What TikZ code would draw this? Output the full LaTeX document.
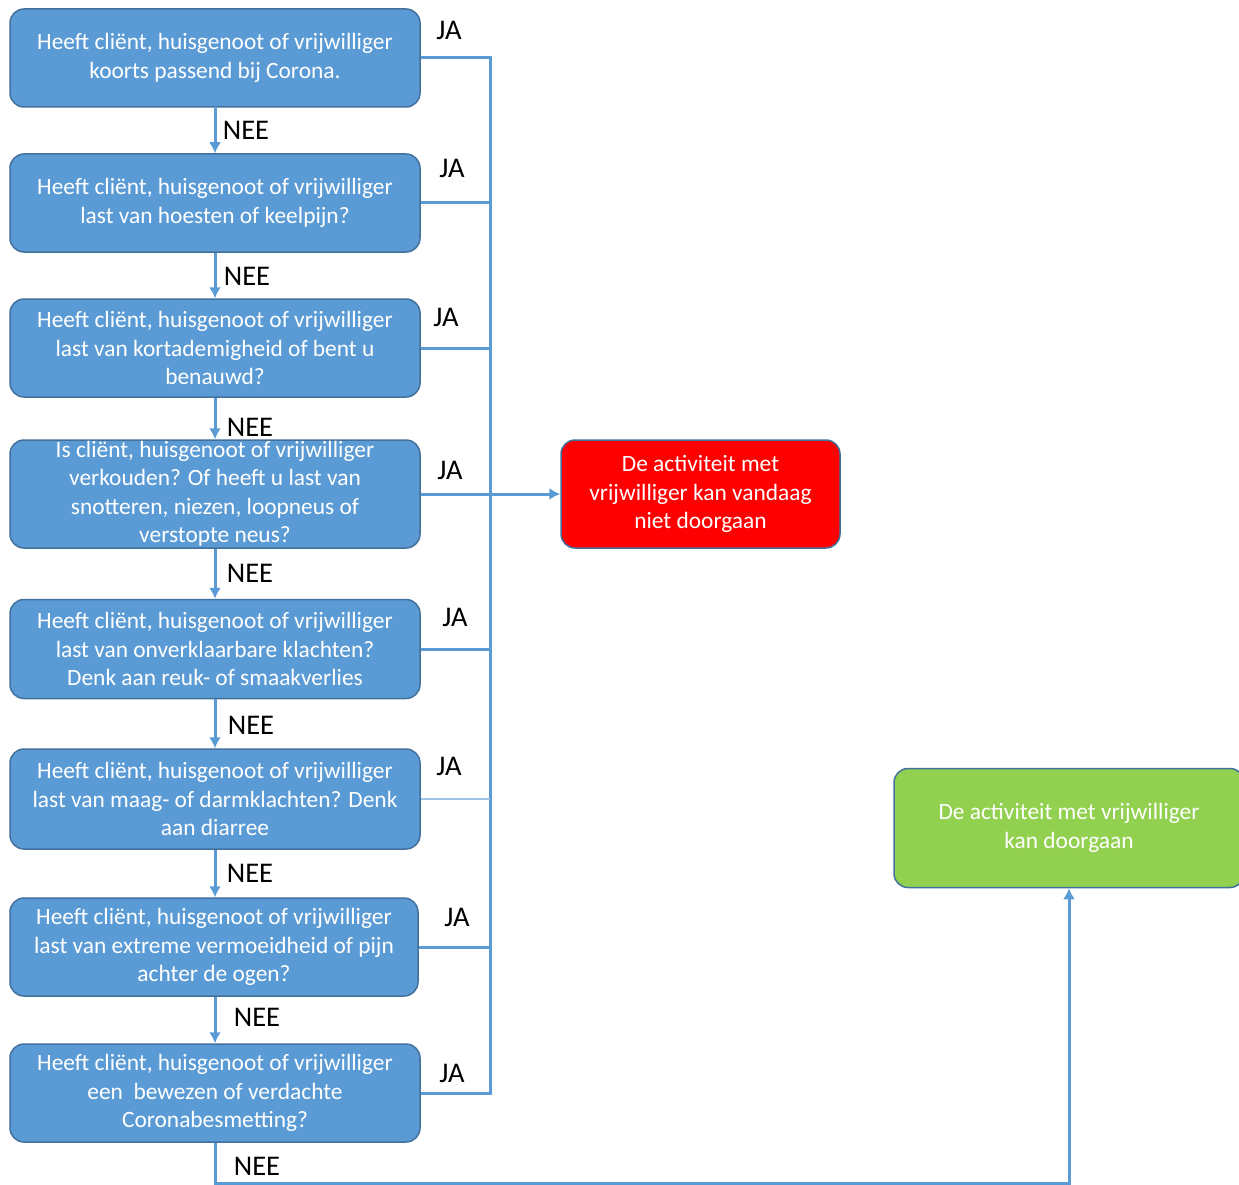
\documentclass[tikz,border=0pt]{standalone}
\usepackage{fontspec}
\setmainfont{Carlito}
\usepackage{xcolor}
\usetikzlibrary{arrows.meta}
\definecolor{vraagblauw}{HTML}{5B9BD5}
\definecolor{vraagrand}{HTML}{41719C}
\definecolor{stopcolor}{HTML}{FF0000}
\definecolor{gacolor}{HTML}{92D050}
\tikzset{
  vraag/.style={draw=vraagrand, line width=1.5pt, fill=vraagblauw, rounded corners=14pt,
    minimum width=410pt, minimum height=98pt, inner sep=0pt, text=white, align=center,
    font=\fontsize{23.4}{28.5}\selectfont},
  uitkomst/.style={vraag, minimum width=279pt, minimum height=108pt},
  lijn/.style={draw=vraagblauw, line width=3pt},
  pijl/.style={lijn, -{Latex[length=11pt,width=12pt]}},
  keuze/.style={inner sep=0pt, font=\fontsize{28.5}{30}\selectfont}
}

\begin{document}
\begin{tikzpicture}[x=1pt,y=-1pt]
                \useasboundingbox (0,0) rectangle (1239,1185);

                % questions
                \node[vraag] (v1) at (215,58) {Heeft cliënt, huisgenoot of vrijwilliger\\koorts passend bij Corona.};
                \node[vraag] (v2) at (215,203) {Heeft cliënt, huisgenoot of vrijwilliger\\last van hoesten of keelpijn?};
                \node[vraag] (v3) at (215,348) {Heeft cliënt, huisgenoot of vrijwilliger\\last van kortademigheid of bent u\\benauwd?};
                \node[vraag, minimum height=108pt] (v4) at (215,494) {Is cliënt, huisgenoot of vrijwilliger\\verkouden? Of heeft u last van\\snotteren, niezen, loopneus of\\verstopte neus?};
                \node[vraag, minimum height=99pt] (v5) at (215,649) {Heeft cliënt, huisgenoot of vrijwilliger\\last van onverklaarbare klachten?\\Denk aan reuk- of smaakverlies};
                \node[vraag, minimum height=100pt] (v6) at (215,799) {Heeft cliënt, huisgenoot of vrijwilliger\\last van maag- of darmklachten? Denk\\aan diarree};
                \node[vraag, minimum width=408pt] (v7) at (214,947) {Heeft cliënt, huisgenoot of vrijwilliger\\last van extreme vermoeidheid of pijn\\achter de ogen?};
                \node[vraag] (v8) at (215,1093) {Heeft cliënt, huisgenoot of vrijwilliger\\een\ \ bewezen of verdachte\\Coronabesmetting?};

                % outcomes
                \node[uitkomst, fill=stopcolor] (rood) at (700.5,494) {De activiteit met\\vrijwilliger kan vandaag\\niet doorgaan};
                \node[uitkomst, fill=gacolor, minimum width=350pt, minimum height=119pt] (groen) at (1069,828) {De activiteit met vrijwilliger\\kan doorgaan};

                % NEE arrows
                \draw[pijl] (v1.south) -- (v2.north);
                \draw[pijl] (v2.south) -- (v3.north);
                \draw[pijl] (v3.south) -- (v4.north);
                \draw[pijl] (v4.south) -- (v5.north);
                \draw[pijl] (v5.south) -- (v6.north);
                \draw[pijl] (v6.south) -- (v6.south |- v7.north);
                \draw[pijl] (v7.north |- v7.south) ++(1,0) -- (v8.north);
                \draw[pijl] (v8.south) -- ++(0,41) -| (groen.south);

                % JA lines
                \coordinate (stam) at (490,57);
                \draw[lijn] (v1.east) -- (v1.east -| stam) -- (v8.east -| stam) -- (v8.east);
                \draw[lijn] (v2.east) -- (v2.east -| stam);
                \draw[lijn] (v3.east) -- (v3.east -| stam);
                \draw[lijn] (v5.east) -- (v5.east -| stam);
                \draw[lijn, line width=1.2pt, draw=vraagblauw!60] (v6.east) -- (v6.east -| stam);
                \draw[lijn] (v7.east) -- (v7.east -| stam);
                \draw[pijl] (v4.east) -- (rood.west);

                % labels
                \node[keuze] (ja1) at (449,30) {JA};
                \node[keuze] (ja2) at (452,168) {JA};
                \node[keuze] (ja3) at (446,317) {JA};
                \node[keuze] (ja4) at (450,470) {JA};
                \node[keuze] (ja5) at (455,617) {JA};
                \node[keuze] (ja6) at (449,766) {JA};
                \node[keuze] (ja7) at (457,917) {JA};
                \node[keuze] (ja8) at (452,1073) {JA};
                \node[keuze] (nee1) at (246,130) {NEE};
                \node[keuze] (nee2) at (247,276) {NEE};
                \node[keuze] (nee3) at (250,427) {NEE};
                \node[keuze] (nee4) at (250,573) {NEE};
                \node[keuze] (nee5) at (251,725) {NEE};
                \node[keuze] (nee6) at (250,873) {NEE};
                \node[keuze] (nee7) at (257,1017) {NEE};
                \node[keuze] (nee8) at (257,1166) {NEE};

\end{tikzpicture}
\end{document}
